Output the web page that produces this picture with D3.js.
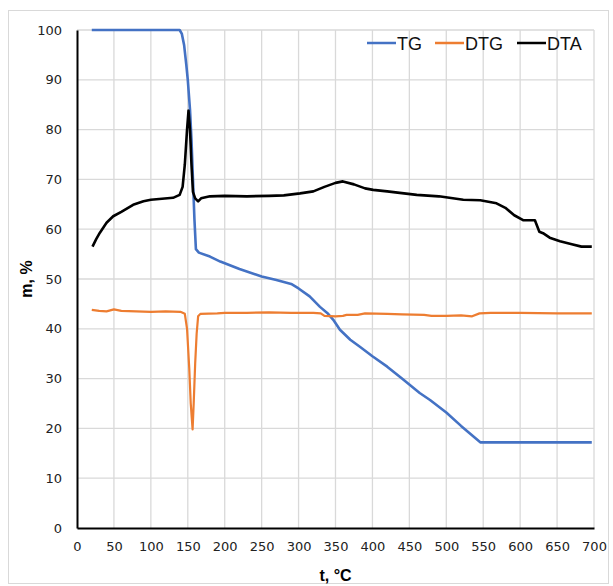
<!DOCTYPE html>
<html>
<head>
<meta charset="utf-8">
<script src="https://cdn.jsdelivr.net/npm/d3@7"></script>
<style>
	body { margin: 0; background: #fff; }
	text { font-family: "DejaVu Sans", sans-serif; }
</style>
</head>
<body>
<svg id="chart" width="613" height="586"></svg>
<script>
// tick values
const xTicks = d3.range(0, 701, 50)
const yTicks = d3.range(0, 101, 10)

// TG curve, [t, m]
const tg = [
	[20, 100], [60, 100], [100, 100], [139, 100], [142, 99.2], [145, 97], [148, 93],
	[150, 90], [153, 84], [155, 78], [157, 70], [159, 62], [161, 56], [165, 55.3],
	[180, 54.5], [194, 53.5], [220, 52], [250, 50.5], [270, 49.8], [290, 49],
	[300, 48.1], [315, 46.5], [329, 44.4], [340, 43], [347, 41.8], [356, 39.8],
	[370, 37.8], [383, 36.4], [400, 34.5], [420, 32.4], [440, 30], [464, 27.1],
	[478, 25.7], [500, 23.2], [520, 20.5], [546, 17.2], [600, 17.2], [650, 17.2], [697, 17.2]
]

// DTG curve
const dtg = [
	[20, 43.8], [30, 43.6], [40, 43.5], [50, 43.9], [60, 43.6], [80, 43.5], [100, 43.4],
	[120, 43.5], [140, 43.4], [146, 43], [149, 40], [152, 32], [154, 25], [156.5, 19.8],
	[158, 25], [160, 33], [162, 39], [164, 42.5], [167, 43], [190, 43.1], [200, 43.2],
	[230, 43.2], [260, 43.3], [290, 43.2], [320, 43.2], [330, 43.1], [335, 42.6],
	[350, 42.5], [360, 42.6], [365, 42.8], [380, 42.8], [390, 43.1], [420, 43], [440, 42.9],
	[470, 42.8], [480, 42.6], [500, 42.6], [520, 42.7], [535, 42.5], [545, 43.1],
	[560, 43.2], [600, 43.2], [650, 43.1], [697, 43.1]
]

// DTA curve
const dta = [
	[21, 56.5], [26, 58], [31, 59.3], [40, 61.3], [49, 62.6], [60, 63.5], [76, 64.9],
	[90, 65.6], [100, 65.9], [115, 66.1], [130, 66.3], [139, 66.9], [143, 68.5],
	[146, 73], [149, 80], [151, 83.8], [153, 80], [155, 73], [157, 67.5], [160, 66.2],
	[164, 65.6], [168, 66.2], [180, 66.6], [200, 66.7], [230, 66.6], [260, 66.7],
	[280, 66.8], [302, 67.2], [320, 67.6], [335, 68.5], [350, 69.3], [360, 69.6],
	[375, 69], [390, 68.2], [401, 67.9], [420, 67.6], [437, 67.3], [460, 66.9],
	[490, 66.6], [523, 65.9], [546, 65.8], [568, 65.2], [580, 64.3], [592, 62.8],
	[604, 61.8], [620, 61.8], [626, 59.5], [631, 59.2], [640, 58.3], [654, 57.6],
	[670, 57], [683, 56.5], [697, 56.5]
]

const series = [
	{ name: "TG", data: tg, colour: "#4472c4", width: 2.6 },
	{ name: "DTG", data: dtg, colour: "#ed7d31", width: 2.2 },
	{ name: "DTA", data: dta, colour: "#000000", width: 2.6 }
]

const svg = d3.select("#chart")
const margin = { left: 77, right: 19, top: 30, bottom: 58 }
const W = 613, H = 586

const x = d3.scaleLinear().domain([0, 700]).range([margin.left, W - margin.right])
const y = d3.scaleLinear().domain([0, 100]).range([H - margin.bottom, margin.top])

// chart border
svg.append("rect")
	.attr("x", 8.5).attr("y", 10.5).attr("width", 600).attr("height", 573)
	.attr("fill", "none").attr("stroke", "#d9d9d9")

// gridlines
svg.append("g").selectAll("line").data(xTicks.slice(1)).join("line")
	.attr("x1", d => x(d)).attr("x2", d => x(d))
	.attr("y1", y(100)).attr("y2", y(0))
	.attr("stroke", "#d9d9d9").attr("stroke-width", 1.3)
svg.append("g").selectAll("line").data(yTicks.slice(1)).join("line")
	.attr("x1", x(0)).attr("x2", x(700))
	.attr("y1", d => y(d)).attr("y2", d => y(d))
	.attr("stroke", "#d9d9d9").attr("stroke-width", 1.3)

// axes
const xAxis = svg.append("g")
	.attr("transform", `translate(0,${y(0)})`)
	.call(d3.axisBottom(x).tickValues(xTicks).tickSize(0).tickPadding(14))
const yAxis = svg.append("g")
	.attr("transform", `translate(${x(0)},0)`)
	.call(d3.axisLeft(y).tickValues(yTicks).tickSize(0).tickPadding(15))
xAxis.select(".domain").attr("stroke", "#000").attr("stroke-width", 2)
yAxis.select(".domain").attr("stroke", "#000").attr("stroke-width", 2)
svg.selectAll(".tick text")
	.style("font-family", "'DejaVu Sans', sans-serif")
	.style("font-size", "13px")
	.attr("fill", "#222")

// lines
const line = d3.line().x(d => x(d[0])).y(d => y(d[1]))
svg.append("g").selectAll("path").data(series).join("path")
	.attr("d", d => line(d.data))
	.attr("fill", "none")
	.attr("stroke", d => d.colour)
	.attr("stroke-width", d => d.width)
	.attr("stroke-linejoin", "round")

// legend
const legendX = [367, 435, 517]
const legend = svg.append("g").selectAll("g").data(series).join("g")
	.attr("transform", (d, i) => `translate(${legendX[i]},43)`)
legend.append("line")
	.attr("x1", 0).attr("x2", 29)
	.attr("stroke", d => d.colour).attr("stroke-width", 2.5)
legend.append("text")
	.attr("x", 30).attr("y", 6.5)
	.style("font-family", "'Liberation Sans', Arial, sans-serif")
	.style("font-size", "18px")
	.attr("fill", "#111")
	.text(d => d.name)

// axis titles
svg.append("text")
	.attr("x", (x(0) + x(700)) / 2).attr("y", 581)
	.attr("text-anchor", "middle")
	.style("font-family", "'Liberation Sans', Arial, sans-serif")
	.style("font-size", "16px").style("font-weight", "bold")
	.text("t, °C")
svg.append("text")
	.attr("transform", `translate(32,${(y(0) + y(100)) / 2}) rotate(-90)`)
	.attr("text-anchor", "middle")
	.style("font-family", "'Liberation Sans', Arial, sans-serif")
	.style("font-size", "16px").style("font-weight", "bold")
	.text("m, %")
</script>
</body>
</html>
